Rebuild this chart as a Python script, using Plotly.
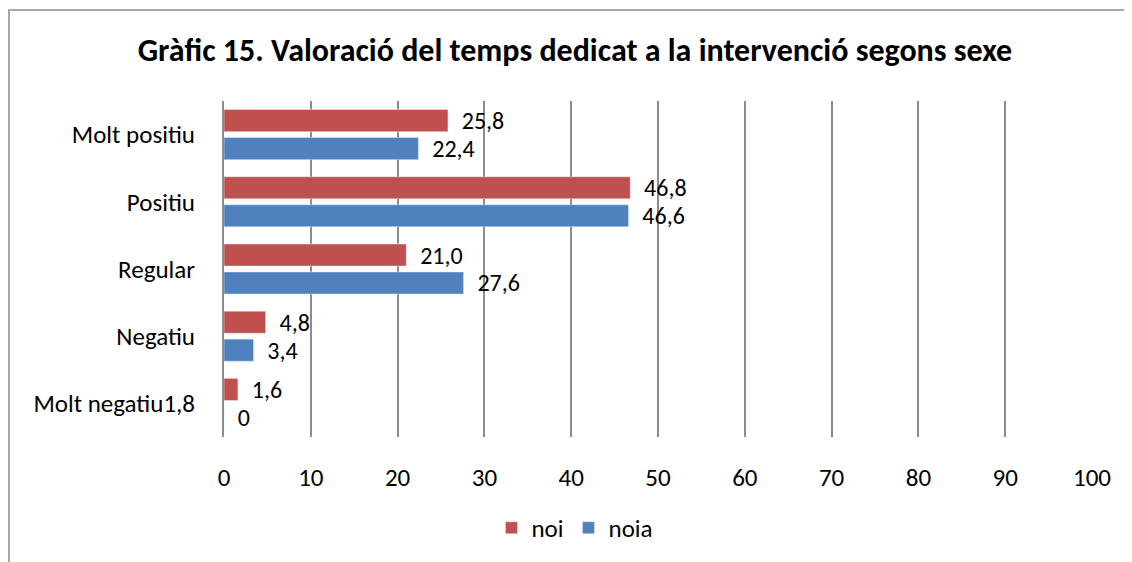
import plotly.graph_objects as go

RED = "#C0504D"
BLUE = "#4F81BD"
GRID = "#8C8C8C"
FONT = "Carlito, Calibri, Lato, sans-serif"

categories = ["Molt positiu", "Positiu", "Regular", "Negatiu", "Molt negatiu1,8"]
noi = [25.8, 46.8, 21.0, 4.8, 1.6]
noia = [22.4, 46.6, 27.6, 3.4, 0]
x_ticks = [0, 10, 20, 30, 40, 50, 60, 70, 80, 90, 100]


def _lbl(v):
    s = "0" if v == 0 else f"{v:.1f}".replace(".", ",")
    return "\u00a0\u00a0" + s


fig = go.Figure()
for name, vals, col in [("noi", noi, RED), ("noia", noia, BLUE)]:
    fig.add_trace(go.Bar(
        y=categories, x=vals, name=name, orientation="h",
        marker=dict(color=col),
        text=[_lbl(v) for v in vals],
        textposition="outside",
        constraintext="none",
        textfont=dict(size=24, color="#000000", family=FONT),
        cliponaxis=False,
    ))

# page body has an 8px margin, so the figure is sized to fit the window
fig.update_layout(
    width=1124, height=554,
    paper_bgcolor="white", plot_bgcolor="white",
    font=dict(family=FONT, size=25, color="#000000"),
    barmode="group", bargap=0.167, bargroupgap=0.21,
    margin=dict(l=216, r=40, t=93, b=125),
    title=dict(text="<b>Gràfic 15. Valoració del temps dedicat a la intervenció segons sexe</b>",
               x=0.5044, xanchor="center", y=0.924, yanchor="middle",
               font=dict(size=32, family=FONT, color="#000000")),
    legend=dict(orientation="h", xref="container", yref="container",
                x=0.5044, xanchor="center", y=0.0614, yanchor="middle",
                traceorder="normal", font=dict(size=25), itemwidth=30),
    showlegend=True,
    shapes=[dict(type="rect", xref="paper", yref="paper",
                 x0=-0.2477, x1=1.3, y0=-0.8, y1=1.271,
                 line=dict(color="#8C8C8C", width=1.5), layer="below")],
)
fig.update_xaxes(range=[0, 100], tickvals=x_ticks, showgrid=True, gridcolor=GRID, gridwidth=2,
                 zeroline=False, showline=False, ticks="outside", ticklen=18, tickcolor="white",
                 tickfont=dict(size=25))
fig.update_yaxes(autorange="reversed", showgrid=False, showline=True, linecolor=GRID, linewidth=2,
                 ticks="outside", ticklen=22, tickcolor="white", tickfont=dict(size=25))

fig.write_html("out.html")
